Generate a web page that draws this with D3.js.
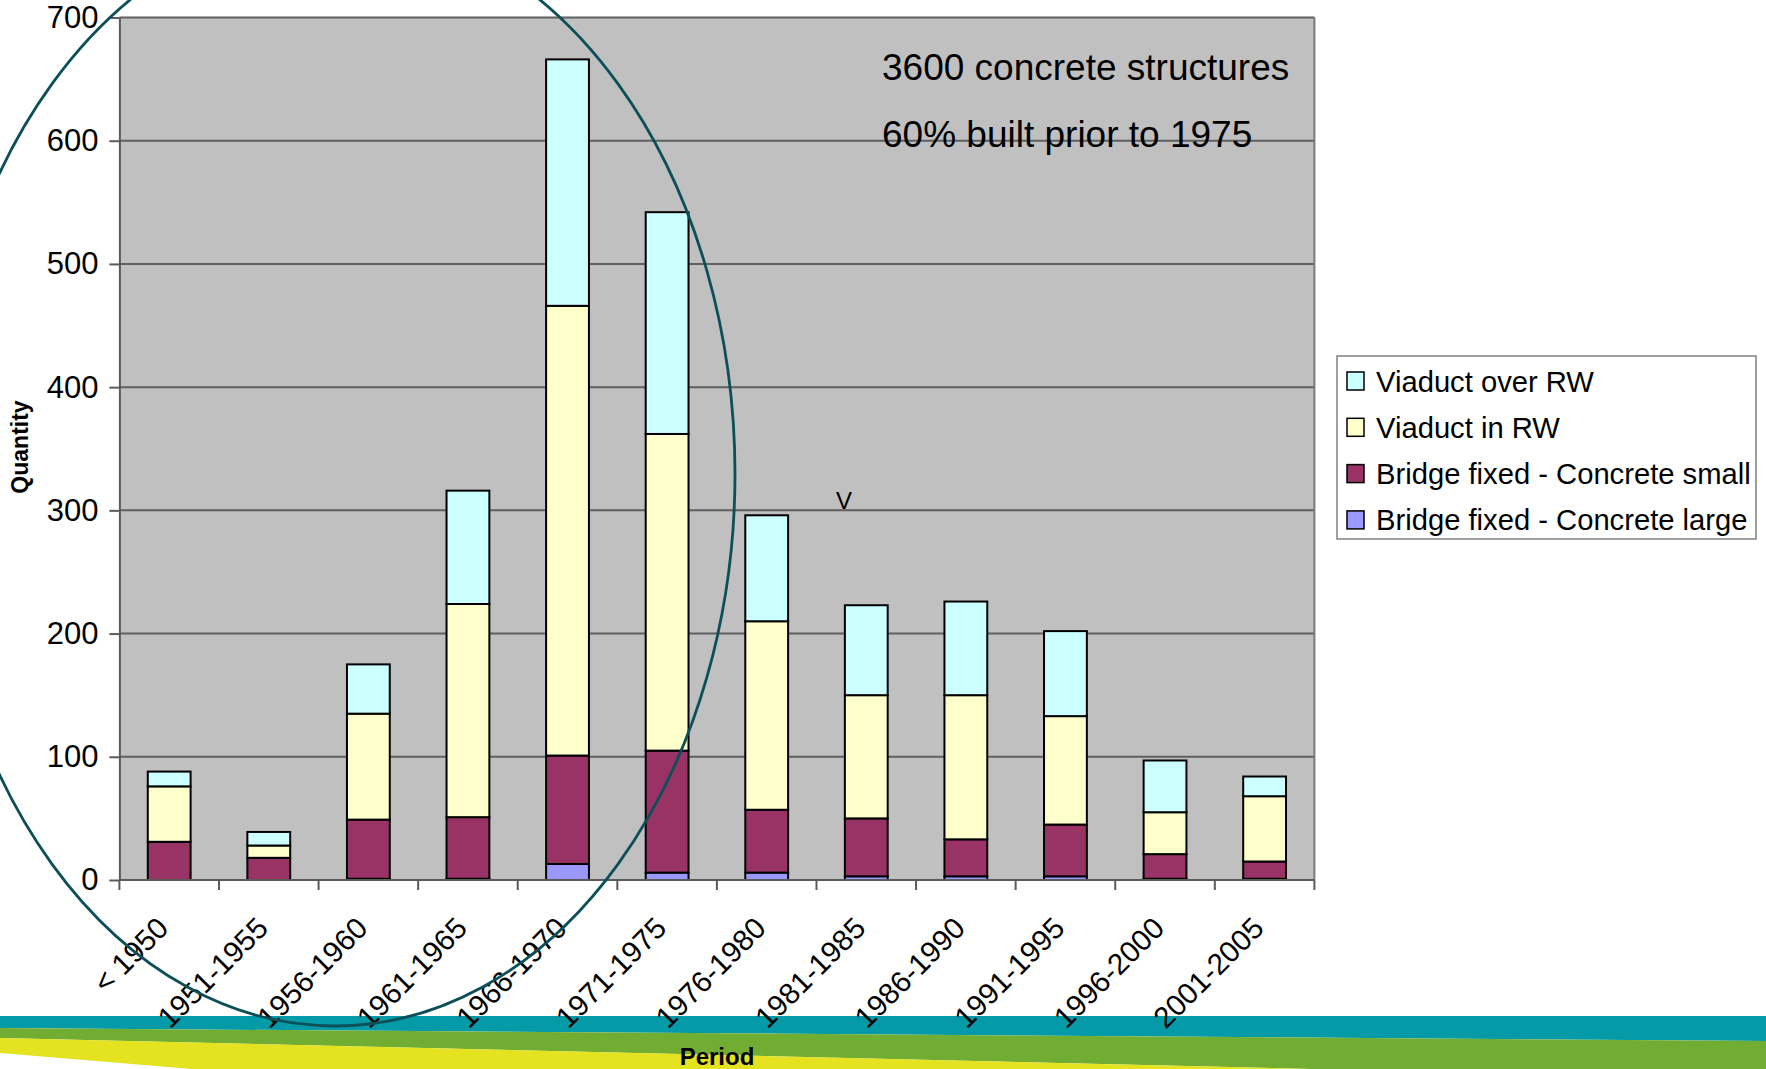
<!DOCTYPE html>
<html>
<head>
<meta charset="utf-8">
<script src="https://cdn.jsdelivr.net/npm/d3@7"></script>
<style>
  html, body { margin: 0; padding: 0; background: #ffffff; }
  svg { display: block; font-family: "Liberation Sans", Arial, sans-serif; }
</style>
</head>
<body>
<svg id="chart" width="1766" height="1069"></svg>
<script>
// Construction periods
const categories = ["< 1950", "1951-1955", "1956-1960", "1961-1965", "1966-1970", "1971-1975",
                    "1976-1980", "1981-1985", "1986-1990", "1991-1995", "1996-2000", "2001-2005"];

// Number of structures per type and period (stacked bottom to top)
const bridgeLarge = [0, 0, 1, 1, 13, 6, 6, 3, 3, 3, 1, 1];
const bridgeSmall = [31, 18, 48, 50, 88, 99, 51, 47, 30, 42, 20, 14];
const viaductInRW = [45, 10, 86, 173, 365, 257, 153, 100, 117, 88, 34, 53];
const viaductOverRW = [12, 11, 40, 92, 200, 180, 86, 73, 76, 69, 42, 16];

const seriesNames = ["Bridge fixed - Concrete large", "Bridge fixed - Concrete small", "Viaduct in RW", "Viaduct over RW"];
const seriesColors = ["#9999ff", "#993366", "#ffffcc", "#ccffff"];

const yTicks = [0, 100, 200, 300, 400, 500, 600, 700];

const notes = ["3600 concrete structures", "60% built prior to 1975"];

const svg = d3.select("#chart");
const W = 1766, H = 1069;
const plot = { left: 119.4, right: 1314.4, top: 17.5, bottom: 880 };

const rows = categories.map((c, i) => ({
  period: c,
  [seriesNames[0]]: bridgeLarge[i],
  [seriesNames[1]]: bridgeSmall[i],
  [seriesNames[2]]: viaductInRW[i],
  [seriesNames[3]]: viaductOverRW[i]
}));

const x = d3.scaleBand().domain(categories).range([plot.left, plot.right])
  .paddingInner(0.57).paddingOuter(0.285);
const y = d3.scaleLinear().domain([0, 700]).range([plot.bottom, plot.top]);
const color = d3.scaleOrdinal().domain(seriesNames).range(seriesColors);

// Decorative bands along the bottom edge
const bands = svg.append("g");
bands.append("polygon").attr("fill", "#049aa8")
  .attr("points", [[0, 1016], [W, 1016], [W, 1041], [0, 1028]].join(" "));
bands.append("polygon").attr("fill", "#71ad33")
  .attr("points", [[0, 1028], [W, 1041], [W, H], [1310, H], [0, 1038]].join(" "));
bands.append("polygon").attr("fill", "#e5e21f")
  .attr("points", [[0, 1038], [1310, H], [192, H], [0, 1053]].join(" "));

// Plot background
svg.append("rect")
  .attr("x", plot.left).attr("y", plot.top)
  .attr("width", plot.right - plot.left).attr("height", plot.bottom - plot.top)
  .attr("fill", "#c0c0c0");

// Horizontal gridlines
svg.append("g").selectAll("line").data(yTicks.filter(d => d > 0)).join("line")
  .attr("x1", plot.left).attr("x2", plot.right)
  .attr("y1", d => y(d)).attr("y2", d => y(d))
  .attr("stroke", "#5f5f5f").attr("stroke-width", 2);

// Right border of the plot area
svg.append("line")
  .attr("x1", plot.right).attr("x2", plot.right)
  .attr("y1", plot.top).attr("y2", plot.bottom)
  .attr("stroke", "#7a7a7a").attr("stroke-width", 2);

// Stacked bars
const stacked = d3.stack().keys(seriesNames)(rows);
svg.append("g").selectAll("g").data(stacked).join("g")
  .attr("fill", d => color(d.key))
  .selectAll("rect").data(d => d).join("rect")
  .attr("x", d => x(d.data.period))
  .attr("width", x.bandwidth())
  .attr("y", d => y(d[1]))
  .attr("height", d => y(d[0]) - y(d[1]))
  .attr("stroke", "#000").attr("stroke-width", 2);

// Y axis
const yAxis = svg.append("g")
  .attr("transform", `translate(${plot.left},0)`)
  .call(d3.axisLeft(y).tickValues(yTicks).tickSize(10).tickSizeOuter(0).tickPadding(11));
yAxis.select(".domain").attr("stroke", "#5a5a5a").attr("stroke-width", 2);
yAxis.selectAll(".tick line").attr("stroke", "#5a5a5a").attr("stroke-width", 2);
yAxis.selectAll(".tick text").attr("font-size", 31).attr("fill", "#000")
  .attr("font-family", "'Liberation Sans', Arial, sans-serif");

// X axis baseline and category separators
svg.append("line")
  .attr("x1", plot.left).attr("x2", plot.right)
  .attr("y1", plot.bottom).attr("y2", plot.bottom)
  .attr("stroke", "#5a5a5a").attr("stroke-width", 2);
const bounds = d3.range(categories.length + 1).map(i => plot.left + i * x.step());
svg.append("g").selectAll("line").data(bounds).join("line")
  .attr("x1", d => d).attr("x2", d => d)
  .attr("y1", plot.bottom).attr("y2", plot.bottom + 10)
  .attr("stroke", "#5a5a5a").attr("stroke-width", 2);

// X tick labels, rotated
svg.append("g").selectAll("text").data(categories).join("text")
  .attr("transform", d => `translate(${x(d) + x.bandwidth() / 2 + 1},930) rotate(-45)`)
  .attr("text-anchor", "end")
  .attr("font-size", 29.5)
  .text(d => d);

// Axis titles
svg.append("text")
  .attr("transform", "translate(28,447) rotate(-90)")
  .attr("text-anchor", "middle")
  .attr("font-size", 23).attr("font-weight", "bold")
  .text("Quantity");
svg.append("text")
  .attr("x", 717).attr("y", 1065)
  .attr("text-anchor", "middle")
  .attr("font-size", 24).attr("font-weight", "bold")
  .text("Period");

// Notes inside the plot
svg.append("g").selectAll("text").data(notes).join("text")
  .attr("x", 882).attr("y", (d, i) => 80 + i * 66.7)
  .attr("font-size", 37)
  .text(d => d);
svg.append("text")
  .attr("x", 836).attr("y", 509)
  .attr("font-size", 24)
  .text("V");

// Legend
const legend = svg.append("g");
legend.append("rect")
  .attr("x", 1337).attr("y", 356).attr("width", 419).attr("height", 183)
  .attr("fill", "#fff").attr("stroke", "#808080").attr("stroke-width", 1.5);
const legendOrder = seriesNames.slice().reverse();
const li = legend.selectAll("g.item").data(legendOrder).join("g")
  .attr("class", "item")
  .attr("transform", (d, i) => `translate(1347,${372 + i * 46.3})`);
li.append("rect").attr("width", 17).attr("height", 18)
  .attr("fill", d => color(d)).attr("stroke", "#000").attr("stroke-width", 1.5);
li.append("text").attr("x", 29).attr("y", 19.5)
  .attr("font-size", 29.2)
  .text(d => d);

// Highlight ellipse around the main construction peak
svg.append("ellipse")
  .attr("cx", 335).attr("cy", 474).attr("rx", 400).attr("ry", 552)
  .attr("fill", "none").attr("stroke", "#0d4f59").attr("stroke-width", 2.8);
</script>
</body>
</html>
